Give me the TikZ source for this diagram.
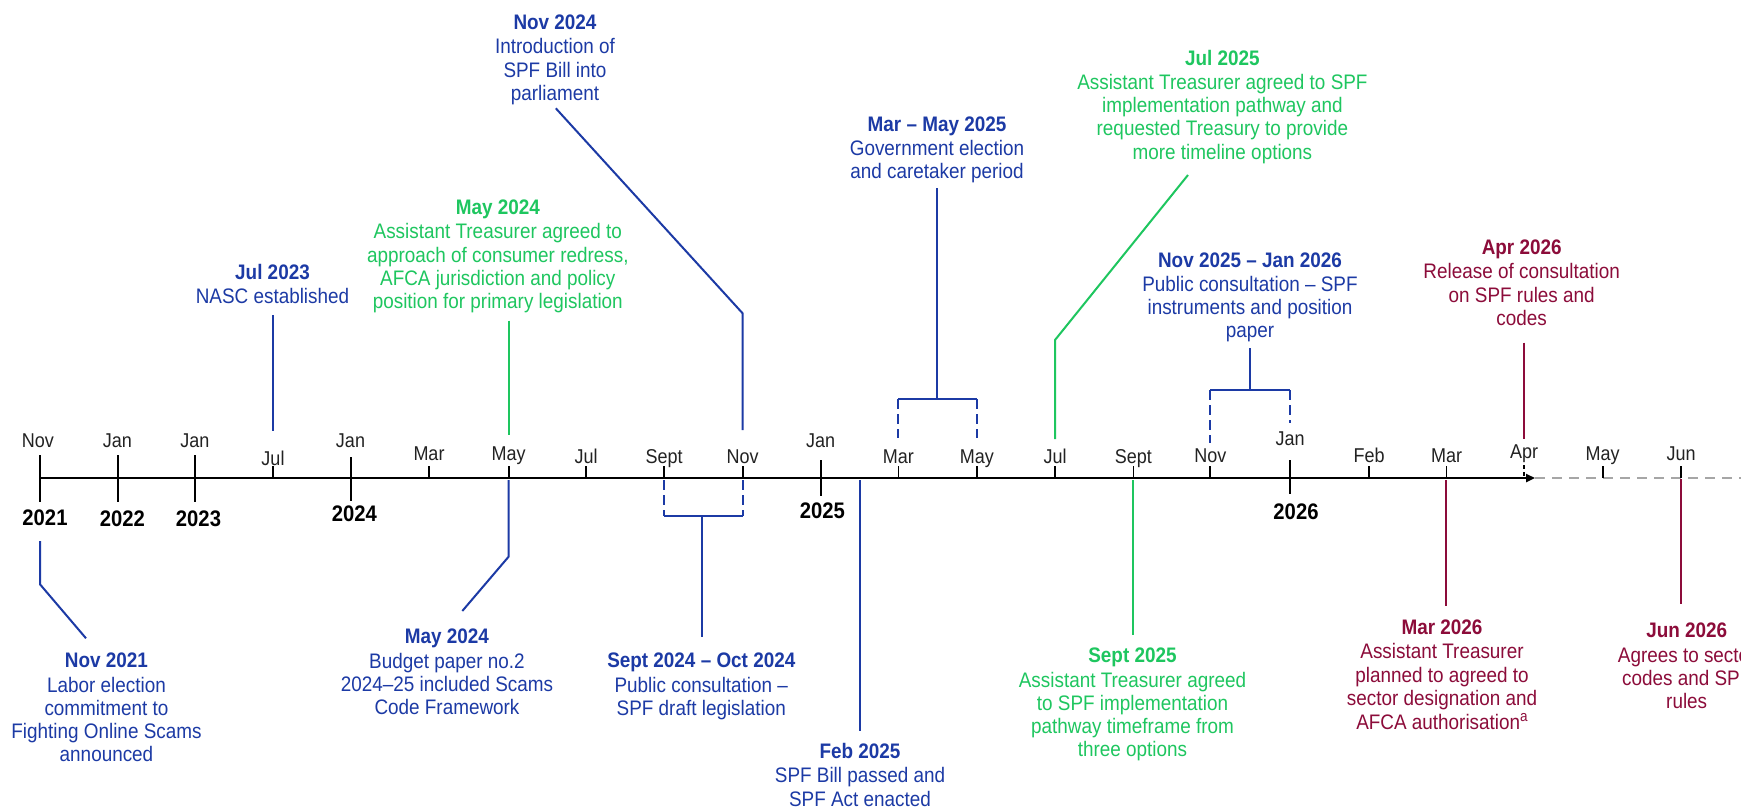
\documentclass[tikz,border=0pt]{standalone}
\usepackage{fontspec}
\setmainfont{Liberation Sans}[FakeStretch=0.9]
\usetikzlibrary{arrows.meta}
\definecolor{evblue}{RGB}{28,58,165}
\definecolor{evgreen}{RGB}{30,198,95}
\definecolor{evred}{RGB}{140,12,58}
\definecolor{axgray}{RGB}{166,166,166}
\definecolor{lblgray}{RGB}{34,34,34}
\newcommand\evs{\rule{0pt}{20pt}}
\newcommand\supa{\raisebox{8pt}{\fontsize{15}{15}\selectfont a}}
\begin{document}
\begin{tikzpicture}[x=1pt,y=-1pt,
  evt/.style={align=center, inner sep=0pt, anchor=north, font=\fontsize{21}{23.2}\selectfont},
  mon/.style={inner sep=0pt, anchor=base, text=lblgray, font=\fontsize{20}{22}\selectfont},
  yr/.style={inner sep=0pt, anchor=base, font=\fontsize{22.5}{24}\selectfont\bfseries},
  tickmaj/.style={line width=2pt, black},
  tickmin/.style={line width=1.8pt, black},
  bl/.style={line width=2pt, evblue},
  gl/.style={line width=2pt, evgreen},
  rl/.style={line width=2pt, evred},
  dsh/.style={dash pattern=on 10pt off 5pt}
]
\fill[white] (0,0) rectangle (1741,811);
\useasboundingbox (0,0) rectangle (1741,811);

% ---------- axis ----------
\coordinate (ax0) at (40,478);
\coordinate (axend) at (1535,478);
\coordinate (axfar) at (1745,478);
\draw[line width=2.4pt, -{Triangle[length=9pt,width=8pt]}] (ax0) -- (axend);
\draw[line width=2.4pt, axgray, dash pattern=on 10pt off 7pt] (axend) -- (axfar);

% major ticks
\draw[tickmaj] (40,455) -- (40,502);
\draw[tickmaj] (117.5,455) -- (117.5,502);
\draw[tickmaj] (195,455) -- (195,502);
\draw[tickmaj] (350.5,457) -- (350.5,501);
\draw[tickmaj] (820.7,460) -- (820.7,496);
\draw[tickmaj] (1290.2,460) -- (1290.2,494);
% minor ticks
\foreach \x in {273,429,508.6,586,664.2,742.6,898.4,976.8,1055,1133.4,1210.3,1369,1446.5,1602.7,1681}
  \draw[tickmin] (\x,466) -- (\x,478);
\draw[tickmin, dash pattern=on 4pt off 3pt] (1524,465) -- (1524,478);

% month labels
\node[mon] (m-nov21) at (38,447.7) {Nov};
\node[mon] (m-jan22) at (117.5,447) {Jan};
\node[mon] (m-jan23) at (195,447) {Jan};
\node[mon] (m-jul23) at (273,465.3) {Jul};
\node[mon] (m-jan24) at (350.5,447) {Jan};
\node[mon] (m-mar24) at (429,460.3) {Mar};
\node[mon] (m-may24) at (508.6,460.3) {May};
\node[mon] (m-jul24) at (586,463) {Jul};
\node[mon] (m-sep24) at (664.2,463) {Sept};
\node[mon] (m-nov24) at (742.6,463) {Nov};
\node[mon] (m-jan25) at (820.7,447) {Jan};
\node[mon] (m-mar25) at (898.4,463) {Mar};
\node[mon] (m-may25) at (976.8,463) {May};
\node[mon] (m-jul25) at (1055,463) {Jul};
\node[mon] (m-sep25) at (1133.4,463) {Sept};
\node[mon] (m-nov25) at (1210.3,462) {Nov};
\node[mon] (m-jan26) at (1290.2,445) {Jan};
\node[mon] (m-feb26) at (1369,462) {Feb};
\node[mon] (m-mar26) at (1446.7,462) {Mar};
\node[mon] (m-apr26) at (1524,458.7) {Apr};
\node[mon] (m-may26) at (1602.7,460.3) {May};
\node[mon] (m-jun26) at (1681,460.3) {Jun};

% year labels
\node[yr] (y2021) at (45,525.3) {2021};
\node[yr] (y2022) at (122.3,526) {2022};
\node[yr] (y2023) at (198.5,526) {2023};
\node[yr] (y2024) at (354.4,521.3) {2024};
\node[yr] (y2025) at (822.4,518) {2025};
\node[yr] (y2026) at (1296,519.7) {2026};

% ---------- events above ----------
\node[evt, text=evblue] (ev-jul23) at (272.5,259.4) {\evs\textbf{Jul 2023}\\[1pt]NASC established};
\coordinate (c-jul23a) at (273,315);
\coordinate (c-jul23b) at (273,430.7);
\draw[bl] (c-jul23a) -- (c-jul23b);

\node[evt, text=evgreen] (ev-may24g) at (497.8,194.4) {\evs\textbf{May 2024}\\[1pt]Assistant Treasurer agreed to\\approach of consumer redress,\\AFCA jurisdiction and policy\\position for primary legislation};
\coordinate (c-may24ga) at (509,320.7);
\coordinate (c-may24gb) at (509,435);
\draw[gl] (c-may24ga) -- (c-may24gb);

\node[evt, text=evblue] (ev-nov24) at (555,9.4) {\evs\textbf{Nov 2024}\\[1pt]Introduction of\\SPF Bill into\\parliament};
\coordinate (c-nov24a) at (555.8,108.3);
\coordinate (c-nov24k) at (742.6,313.3);
\coordinate (c-nov24b) at (742.6,430);
\draw[bl] (c-nov24a) -- (c-nov24k) -- (c-nov24b);

\node[evt, text=evblue] (ev-marmay25) at (937,111) {\evs\textbf{Mar – May 2025}\\[1pt]Government election\\and caretaker period};
\coordinate (c-mm-top) at (937,188.3);
\coordinate (c-mm-mid) at (937,399.3);
\coordinate (c-mm-l) at (898.4,399.3);
\coordinate (c-mm-r) at (976.8,399.3);
\coordinate (c-mm-lb) at (898.4,438);
\coordinate (c-mm-rb) at (976.8,438);
\draw[bl] (c-mm-top) -- (c-mm-mid);
\draw[bl] (c-mm-l) -- (c-mm-r);
\draw[bl, dsh] (c-mm-l) -- (c-mm-lb);
\draw[bl, dsh] (c-mm-r) -- (c-mm-rb);

\node[evt, text=evgreen] (ev-jul25) at (1222.4,45) {\evs\textbf{Jul 2025}\\[1pt]Assistant Treasurer agreed to SPF\\implementation pathway and\\requested Treasury to provide\\more timeline options};
\coordinate (c-jul25a) at (1188,175);
\coordinate (c-jul25k) at (1055,340);
\coordinate (c-jul25b) at (1055,439);
\draw[gl] (c-jul25a) -- (c-jul25k) -- (c-jul25b);

\node[evt, text=evblue] (ev-nov25) at (1250,247) {\evs\textbf{Nov 2025 – Jan 2026}\\[1pt]Public consultation – SPF\\instruments and position\\paper};
\coordinate (c-nj-top) at (1250,348.3);
\coordinate (c-nj-mid) at (1250,390);
\coordinate (c-nj-l) at (1210.3,390);
\coordinate (c-nj-r) at (1290.2,390);
\coordinate (c-nj-lb) at (1210.3,443);
\coordinate (c-nj-rb) at (1290.2,423);
\draw[bl] (c-nj-top) -- (c-nj-mid);
\draw[bl] (c-nj-l) -- (c-nj-r);
\draw[bl, dsh] (c-nj-l) -- (c-nj-lb);
\draw[bl, dsh] (c-nj-r) -- (c-nj-rb);

\node[evt, text=evred] (ev-apr26) at (1521.7,234.4) {\evs\textbf{Apr 2026}\\[1pt]Release of consultation\\on SPF rules and\\codes};
\coordinate (c-apr26a) at (1524,342.7);
\coordinate (c-apr26b) at (1524,439.3);
\draw[rl] (c-apr26a) -- (c-apr26b);

% ---------- events below ----------
\node[evt, text=evblue] (ev-nov21) at (106.5,647.7) {\evs\textbf{Nov 2021}\\[1pt]Labor election\\commitment to\\Fighting Online Scams\\announced};
\coordinate (c-nov21a) at (40,541);
\coordinate (c-nov21k) at (40,584.3);
\coordinate (c-nov21b) at (86,638.3);
\draw[bl] (c-nov21a) -- (c-nov21k) -- (c-nov21b);

\node[evt, text=evblue] (ev-may24b) at (447,623.7) {\evs\textbf{May 2024}\\[1pt]Budget paper no.2\\2024–25 included Scams\\Code Framework};
\coordinate (c-may24ba) at (508.6,480);
\coordinate (c-may24bk) at (508.6,556.7);
\coordinate (c-may24bb) at (462.3,611);
\draw[bl] (c-may24ba) -- (c-may24bk) -- (c-may24bb);

\node[evt, text=evblue] (ev-sep24) at (701.3,647.7) {\evs\textbf{Sept 2024 – Oct 2024}\\[1pt]Public consultation –\\SPF draft legislation};
\coordinate (c-so-lt) at (664.2,480);
\coordinate (c-so-rt) at (742.6,480);
\coordinate (c-so-l) at (664.2,515.7);
\coordinate (c-so-r) at (742.6,515.7);
\coordinate (c-so-mid) at (701.7,515.7);
\coordinate (c-so-bot) at (701.7,636.7);
\draw[bl, dsh] (c-so-lt) -- (c-so-l);
\draw[bl, dsh] (c-so-rt) -- (c-so-r);
\draw[bl] (c-so-l) -- (c-so-r);
\draw[bl] (c-so-mid) -- (c-so-bot);

\node[evt, text=evblue] (ev-feb25) at (860,738.5) {\evs\textbf{Feb 2025}\\[1pt]SPF Bill passed and\\SPF Act enacted};
\coordinate (c-feb25a) at (859.5,480);
\coordinate (c-feb25b) at (859.5,731);
\draw[bl] (c-feb25a) -- (c-feb25b);

\node[evt, text=evgreen] (ev-sep25) at (1132.5,642.7) {\evs\textbf{Sept 2025}\\[1pt]Assistant Treasurer agreed\\to SPF implementation\\pathway timeframe from\\three options};
\coordinate (c-sep25a) at (1133.4,480);
\coordinate (c-sep25b) at (1133.4,635);
\draw[gl] (c-sep25a) -- (c-sep25b);

\node[evt, text=evred] (ev-mar26) at (1442,614.4) {\evs\textbf{Mar 2026}\\[1pt]Assistant Treasurer\\planned to agreed to\\sector designation and\\[1.5pt]AFCA authorisation\supa};
\coordinate (c-mar26a) at (1446.3,480);
\coordinate (c-mar26b) at (1446.3,606);
\draw[rl] (c-mar26a) -- (c-mar26b);

\node[evt, text=evred] (ev-jun26) at (1686.7,617.7) {\evs\textbf{Jun 2026}\\[1pt]Agrees to sector\\codes and SPF\\rules};
\coordinate (c-jun26a) at (1681,479);
\coordinate (c-jun26b) at (1681,604);
\draw[rl] (c-jun26a) -- (c-jun26b);
\end{tikzpicture}
\end{document}
